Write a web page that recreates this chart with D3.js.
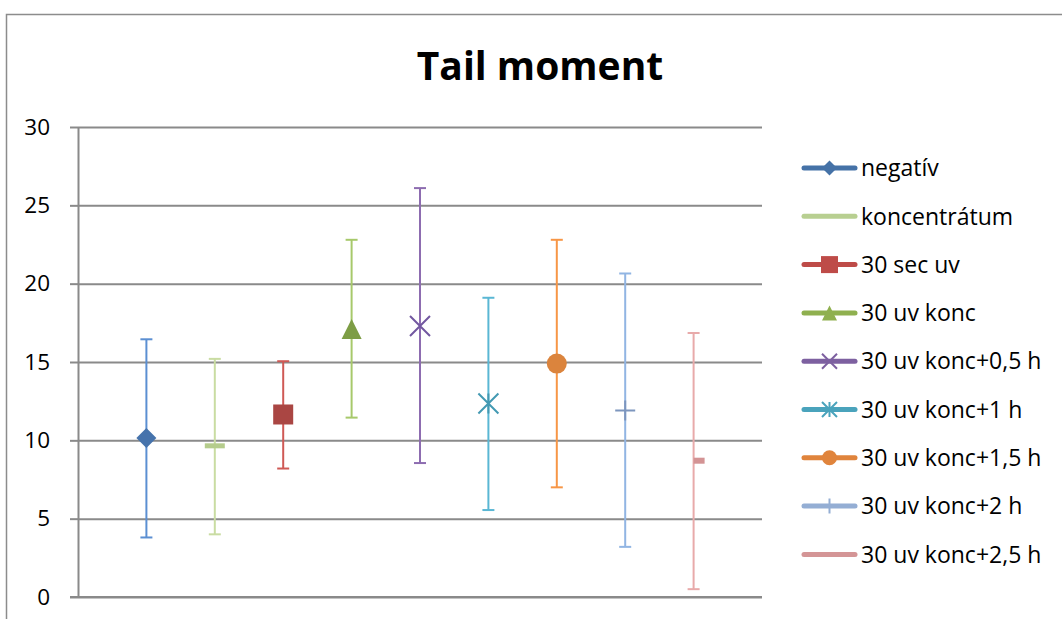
<!DOCTYPE html>
<html>
<head>
<meta charset="utf-8">
<script src="https://cdn.jsdelivr.net/npm/d3@7"></script>
<style>
  body { margin: 0; background: #fff; }
  svg { display: block; }
  text { font-family: "Open Sans", sans-serif; fill: #000; }
</style>
</head>
<body>
<script>
// Tail moment - mean with error bars per treatment
const categories = ["negatív", "koncentrátum", "30 sec uv", "30 uv konc", "30 uv konc+0,5 h",
    "30 uv konc+1 h", "30 uv konc+1,5 h", "30 uv konc+2 h", "30 uv konc+2,5 h"];
const means = [10.15, 9.65, 11.65, 17.1, 17.3, 12.35, 14.9, 11.9, 8.7];
const upper = [16.45, 15.2, 15.05, 22.8, 26.1, 19.1, 22.8, 20.65, 16.85];
const lower = [3.8, 4.0, 8.2, 11.45, 8.55, 5.55, 7.0, 3.2, 0.5];
const yTicks = [0, 5, 10, 15, 20, 25, 30];

// styles per series: marker shape, marker colour, error bar colour, legend line colour
const styles = [
    { shape: "diamond", mark: "#4673ac", bar: "#5b8fd2", line: "#4572a7" },
    { shape: "dash", mark: "#b5cc8c", bar: "#c9dca2", line: "#b8cf91" },
    { shape: "square", mark: "#aa4643", bar: "#cf5955", line: "#be4b48" },
    { shape: "triangle", mark: "#7d9d45", bar: "#a7c96b", line: "#8fb04f" },
    { shape: "x", mark: "#7257a0", bar: "#8d6cb0", line: "#7d60a0" },
    { shape: "star", mark: "#4399b2", bar: "#5ab7d4", line: "#4aa3bc" },
    { shape: "circle", mark: "#db843d", bar: "#f79646", line: "#e0843c" },
    { shape: "plus", mark: "#7d96be", bar: "#91b5e3", line: "#94aed4" },
    { shape: "dashRight", mark: "#d39394", bar: "#e8aaaa", line: "#d49596" }
];

const W = 1062, H = 619;
const plot = { left: 78, right: 762, top: 127, bottom: 597 };

const svg = d3.select("body").append("svg")
    .attr("width", W)
    .attr("height", H);

// outer chart frame
svg.append("rect")
    .attr("x", 6.5).attr("y", 14.5)
    .attr("width", W + 20).attr("height", H + 20)
    .attr("fill", "none")
    .attr("stroke", "#8c8c8c")
    .attr("stroke-width", 1.5);

svg.append("text")
    .attr("x", 540).attr("y", 80)
    .attr("text-anchor", "middle")
    .style("font-size", "39px")
    .style("font-weight", "bold")
    .text("Tail moment");

const x = d3.scaleLinear().domain([0, 10]).range([plot.left, plot.right]);
const y = d3.scaleLinear().domain([0, 30]).range([plot.bottom, plot.top]);

// gridlines
svg.append("g")
    .attr("transform", "translate(" + plot.left + ",0)")
    .call(d3.axisLeft(y).tickValues(yTicks).tickSize(-(plot.right - plot.left)).tickFormat(""))
    .call(g => g.select(".domain").remove())
    .call(g => g.selectAll("line").attr("stroke", "#8a8a8a").attr("stroke-width", 2));

// y axis with ticks and labels
svg.append("g")
    .attr("transform", "translate(" + plot.left + ",0)")
    .call(d3.axisLeft(y).tickValues(yTicks).tickSize(8).tickSizeOuter(0).tickPadding(20))
    .call(g => g.select(".domain").attr("stroke", "#8a8a8a").attr("stroke-width", 2))
    .call(g => g.selectAll("line").attr("stroke", "#8a8a8a").attr("stroke-width", 2))
    .call(g => g.selectAll("text")
        .style("font-family", "'Open Sans', sans-serif")
        .style("font-size", "22.5px")
        .attr("fill", "#000"));

// x axis line
svg.append("line")
    .attr("x1", plot.left - 8).attr("x2", plot.right)
    .attr("y1", y(0)).attr("y2", y(0))
    .attr("stroke", "#8a8a8a").attr("stroke-width", 2);

// marker shape drawing, s = half size
function drawMarker(g, shape, color, s) {
    if (shape === "diamond") {
        g.append("path").attr("d", `M0,${-s}L${s},0L0,${s}L${-s},0Z`).attr("fill", color);
    } else if (shape === "square") {
        g.append("rect").attr("x", -s).attr("y", -s).attr("width", 2 * s).attr("height", 2 * s)
            .attr("fill", color);
    } else if (shape === "triangle") {
        g.append("path").attr("d", `M0,${-s}L${s},${s}L${-s},${s}Z`).attr("fill", color);
    } else if (shape === "circle") {
        g.append("circle").attr("r", s).attr("fill", color);
    } else if (shape === "x") {
        g.append("path").attr("d", `M${-s},${-s}L${s},${s}M${-s},${s}L${s},${-s}`)
            .attr("stroke", color).attr("stroke-width", 2).attr("fill", "none");
    } else if (shape === "star") {
        g.append("path").attr("d", `M${-s},${-s}L${s},${s}M${-s},${s}L${s},${-s}M0,${-s}L0,${s}`)
            .attr("stroke", color).attr("stroke-width", 2).attr("fill", "none");
    } else if (shape === "plus") {
        g.append("path").attr("d", `M${-s},0L${s},0M0,${-s}L0,${s}`)
            .attr("stroke", color).attr("stroke-width", 2).attr("fill", "none");
    } else if (shape === "dash") {
        g.append("rect").attr("x", -s).attr("y", -2.5).attr("width", 2 * s).attr("height", 5)
            .attr("fill", color);
    } else if (shape === "dashRight") {
        g.append("rect").attr("x", 0).attr("y", -3).attr("width", s * 1.1).attr("height", 6)
            .attr("fill", color);
    }
}

const series = svg.append("g").selectAll("g")
    .data(categories)
    .join("g");

series.each(function(name, i) {
    const g = d3.select(this);
    const st = styles[i];
    const cx = x(i + 1);
    // error bar
    g.append("line")
        .attr("x1", cx).attr("x2", cx)
        .attr("y1", y(upper[i])).attr("y2", y(lower[i]))
        .attr("stroke", st.bar).attr("stroke-width", 2);
    [upper[i], lower[i]].forEach(v => {
        g.append("line")
            .attr("x1", cx - 6).attr("x2", cx + 6)
            .attr("y1", y(v)).attr("y2", y(v))
            .attr("stroke", st.bar).attr("stroke-width", 2);
    });
    const m = g.append("g").attr("transform", `translate(${cx},${y(means[i])})`);
    drawMarker(m, st.shape, st.mark, 10);
});

// legend
const legend = svg.append("g").selectAll("g")
    .data(categories)
    .join("g")
    .attr("transform", (d, i) => `translate(0,${168 + i * 48.3})`);

legend.each(function(name, i) {
    const g = d3.select(this);
    const st = styles[i];
    g.append("line")
        .attr("x1", 804).attr("x2", 855)
        .attr("stroke", st.line).attr("stroke-width", 5)
        .attr("stroke-linecap", "round");
    if (st.shape !== "dash" && st.shape !== "dashRight") {
        const m = g.append("g").attr("transform", "translate(829.5,0)");
        drawMarker(m, st.shape, st.line, st.shape === "square" ? 8.5 : 7.5);
    }
    g.append("text")
        .attr("x", 861)
        .attr("dy", "0.36em")
        .style("font-size", "23px")
        .text(name);
});
</script>
</body>
</html>
